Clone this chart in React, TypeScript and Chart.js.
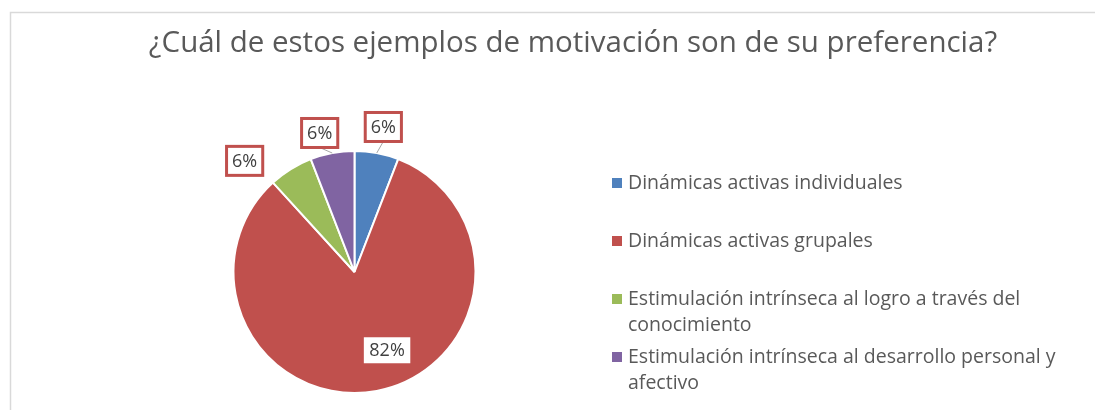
import React, { useEffect, useRef } from "react";
import { Chart, registerables } from "chart.js";

Chart.register(...registerables);

const TITLE = "¿Cuál de estos ejemplos de motivación son de su preferencia?";
const CATEGORIES = [
  "Dinámicas activas individuales",
  "Dinámicas activas grupales",
  "Estimulación intrínseca al logro a través del conocimiento",
  "Estimulación intrínseca al desarrollo personal y afectivo",
];
const VALUES = [1, 14, 1, 1];
const COLORS = ["#4F81BD", "#C0504D", "#9BBB59", "#8064A2"];

// label layout styling (offsets from default label anchor, to avoid overlaps like the original)
const LABEL_NUDGE: [number, number][] = [
  [2, -1.5],
  [17, -5],
  [-33, 13],
  [-8, 4.5],
];
const LABEL_LEADER = [true, false, false, true];
const LABEL_BORDERED = [true, false, true, true];

const FONT = "'Open Sans', Lato, sans-serif";
const TEXT_COLOR = "#595959";

function wrapText(ctx: CanvasRenderingContext2D, text: string, maxW: number): string[] {
  const words = text.split(" ");
  const lines: string[] = [];
  let cur = "";
  for (const w of words) {
    const t = cur ? cur + " " + w : w;
    if (ctx.measureText(t).width > maxW && cur) {
      lines.push(cur);
      cur = w;
    } else cur = t;
  }
  if (cur) lines.push(cur);
  return lines;
}

const decorPlugin = {
  id: "decor",
  beforeDraw(chart: any) {
    const ctx = chart.ctx as CanvasRenderingContext2D;
    const W = chart.width;
    const H = chart.height;
    ctx.save();
    ctx.fillStyle = "#fff";
    ctx.fillRect(0, 0, W, H);
    ctx.strokeStyle = "#D9D9D9";
    ctx.lineWidth = 1.5;
    ctx.beginPath();
    ctx.moveTo(10.5, H);
    ctx.lineTo(10.5, 12.5);
    ctx.lineTo(W, 12.5);
    ctx.stroke();
    // title
    ctx.fillStyle = TEXT_COLOR;
    ctx.font = `29.5px ${FONT}`;
    ctx.textAlign = "center";
    ctx.textBaseline = "alphabetic";
    ctx.fillText(TITLE, 573, 52);
    ctx.restore();
  },
  afterDraw(chart: any) {
    const ctx = chart.ctx as CanvasRenderingContext2D;
    const meta = chart.getDatasetMeta(0);
    const data = chart.data.datasets[0].data as number[];
    const total = data.reduce((a, b) => a + b, 0);
    ctx.save();
    // data labels
    meta.data.forEach((arc: any, i: number) => {
      const p = arc.getProps(["x", "y", "startAngle", "endAngle", "outerRadius"], true);
      const mid = (p.startAngle + p.endAngle) / 2;
      const frac = data[i] / total;
      const inside = frac > 0.25;
      const rr = inside ? p.outerRadius * 0.7 : p.outerRadius + 25;
      const lx = p.x + Math.cos(mid) * rr + LABEL_NUDGE[i][0];
      const ly = p.y + Math.sin(mid) * rr + LABEL_NUDGE[i][1];
      const txt = Math.round(frac * 100) + "%";
      ctx.font = `18px ${FONT}`;
      const tw = ctx.measureText(txt).width;
      const bw = tw + 11;
      const bh = inside ? 26 : 29;
      if (LABEL_LEADER[i]) {
        const ex = p.x + Math.cos(mid) * p.outerRadius;
        const ey = p.y + Math.sin(mid) * p.outerRadius;
        ctx.strokeStyle = "#A6A6A6";
        ctx.lineWidth = 1;
        ctx.beginPath();
        ctx.moveTo(ex, ey);
        ctx.lineTo(lx, ly + bh / 2);
        ctx.stroke();
      }
      ctx.fillStyle = "#fff";
      ctx.fillRect(lx - bw / 2, ly - bh / 2, bw, bh);
      if (LABEL_BORDERED[i]) {
        ctx.strokeStyle = "#C0504D";
        ctx.lineWidth = 3;
        ctx.strokeRect(lx - bw / 2, ly - bh / 2, bw, bh);
      }
      ctx.fillStyle = "#404040";
      ctx.textAlign = "center";
      ctx.textBaseline = "middle";
      ctx.fillText(txt, lx, ly + 1);
    });
    // legend
    const labels = chart.data.labels as string[];
    const colors = chart.data.datasets[0].backgroundColor as string[];
    ctx.font = `19.5px ${FONT}`;
    ctx.textAlign = "left";
    ctx.textBaseline = "middle";
    labels.forEach((lab, i) => {
      const y0 = 183 + 58 * i;
      ctx.fillStyle = colors[i];
      ctx.fillRect(612, y0 - 5, 10, 10);
      const lines = wrapText(ctx, lab, 460);
      ctx.fillStyle = TEXT_COLOR;
      lines.forEach((ln, j) => ctx.fillText(ln, 628, y0 + 26 * j));
    });
    ctx.restore();
  },
};

export default function App() {
  const ref = useRef<HTMLCanvasElement | null>(null);
  useEffect(() => {
    document.body.style.margin = "0";
    if (!ref.current) return;
    const chart = new Chart(ref.current, {
      type: "pie",
      data: {
        labels: CATEGORIES,
        datasets: [
          {
            data: VALUES,
            backgroundColor: COLORS,
            borderColor: "#ffffff",
            borderWidth: 2,
          },
        ],
      },
      options: {
        animation: false,
        responsive: false,
        maintainAspectRatio: false,
        layout: { padding: { top: 150, bottom: 16, left: 231, right: 617 } },
        plugins: {
          legend: { display: false },
          title: { display: false },
          tooltip: { enabled: false },
        },
      },
      plugins: [decorPlugin],
    });
    return () => chart.destroy();
  }, []);
  return (
    <div style={{ width: 1095, height: 410 }}>
      <canvas ref={ref} width={1095} height={410} style={{ display: "block" }} />
    </div>
  );
}
